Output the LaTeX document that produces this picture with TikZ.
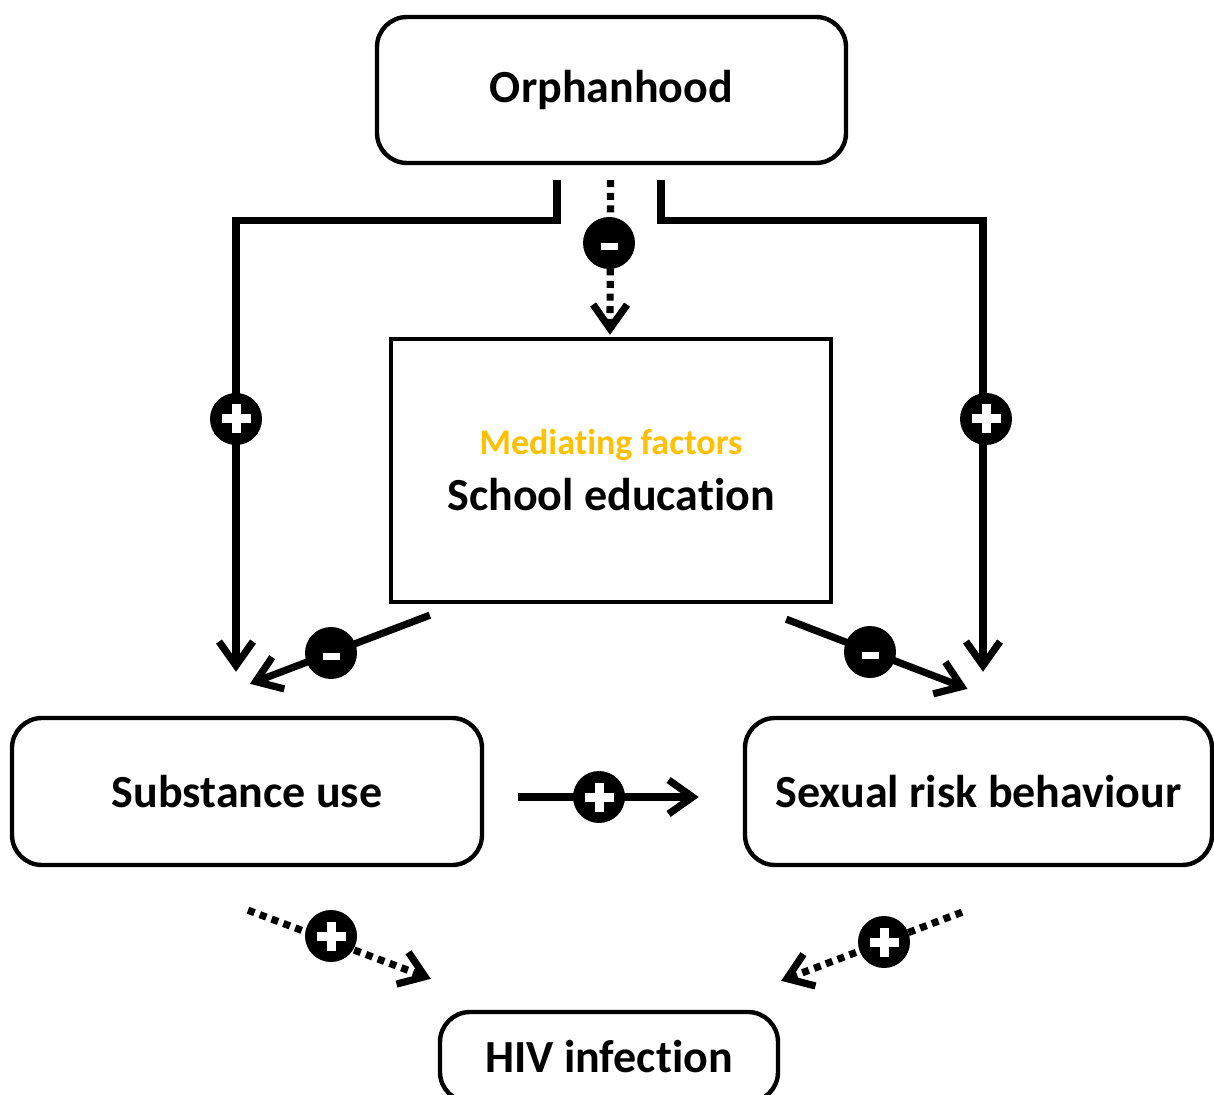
\documentclass[tikz,border=0pt]{standalone}
\usepackage{fontspec}
\setmainfont[Ligatures=NoCommon]{Carlito}
\usetikzlibrary{arrows.meta,calc}
\definecolor{gold}{HTML}{FFC000}

\begin{document}
\begin{tikzpicture}[x=0.5pt,y=-0.5pt,
  box/.style={draw, line width=2.2pt, rounded corners=15pt, inner sep=0pt,
    align=center, font=\fontsize{23}{27}\selectfont\bfseries},
  link/.style={line width=3.6pt, -{Straight Barb[length=12pt,width=17pt]}},
  dotlink/.style={link, dash pattern=on 3.5pt off 2.8pt},
  sign/.style={circle, fill=black, minimum size=26pt, inner sep=0pt},
  signplus/.style={sign, path picture={
    \fill[white] ($(path picture bounding box.center)+(-14.5,-4.5)$) rectangle ($(path picture bounding box.center)+(14.5,4.5)$);
    \fill[white] ($(path picture bounding box.center)+(-4.5,-14.5)$) rectangle ($(path picture bounding box.center)+(4.5,14.5)$);}},
  signminus/.style={sign, path picture={
    \fill[white] ($(path picture bounding box.center)+(-8.5,0)$) rectangle ($(path picture bounding box.center)+(8.5,7)$);}},
]
\useasboundingbox (0,0) rectangle (1214,1095);

% boxes
\node[box, minimum width=234.5pt, minimum height=73pt] (orph) at (611.5,90) {\raisebox{-1.5pt}{Orphanhood}};
\node[box, rounded corners=0pt, minimum width=220pt, minimum height=131.5pt] (school) at (611,470.5)
  {{\fontsize{18}{20}\selectfont\color{gold}Mediating factors}\\[1pt]School education};
\node[box, minimum width=235pt, minimum height=73.5pt] (subst) at (247,791.5) {Substance use};
\node[box, minimum width=233.5pt, minimum height=73.5pt] (sex) at (978.5,791.5) {Sexual risk behaviour};
\node[box, minimum width=169pt, minimum height=45pt] (hiv) at (609,1057) {HIV infection};

% connectors
\draw[dotlink] ($(orph.south)+(-1,15)$) -- ($(school.north)+(-1,-2)$);
\draw[link] ($(orph.south)+(-54.5,15)$) -- ++(0,40) -| ($(subst.north)+(-11,-44)$);
\draw[link] ($(orph.south)+(49.5,15)$) -- ++(0,40) -| ($(sex.north)+(4.5,-44)$);
\draw[link] ($(school.south west)+(41,11)$) -- ($(subst.north)+(3,-32)$);
\draw[link] ($(school.south east)+(-47,15)$) -- ($(sex.north)+(-11,-27)$);
\draw[link] ($(subst.east)+(34,5.5)$) -- ($(sex.west)+(-44,5.5)$);
\draw[dotlink] ($(subst.south)+(1,43)$) -- ($(hiv.north west)+(-7,-31)$);
\draw[dotlink] ($(sex.south)+(-16.5,45)$) -- ($(hiv.north east)+(1,-29)$);

% signs on the connectors
\node[signminus] (s1) at (609,243) {};
\node[signplus]  (s2) at (236,419) {};
\node[signplus]  (s3) at (986,419) {};
\node[signminus] (s4) at (331,653) {};
\node[signminus] (s5) at (870,652) {};
\node[signplus]  (s6) at (599,797) {};
\node[signplus]  (s7) at (331,936) {};
\node[signplus]  (s8) at (884,942) {};
\end{tikzpicture}
\end{document}
